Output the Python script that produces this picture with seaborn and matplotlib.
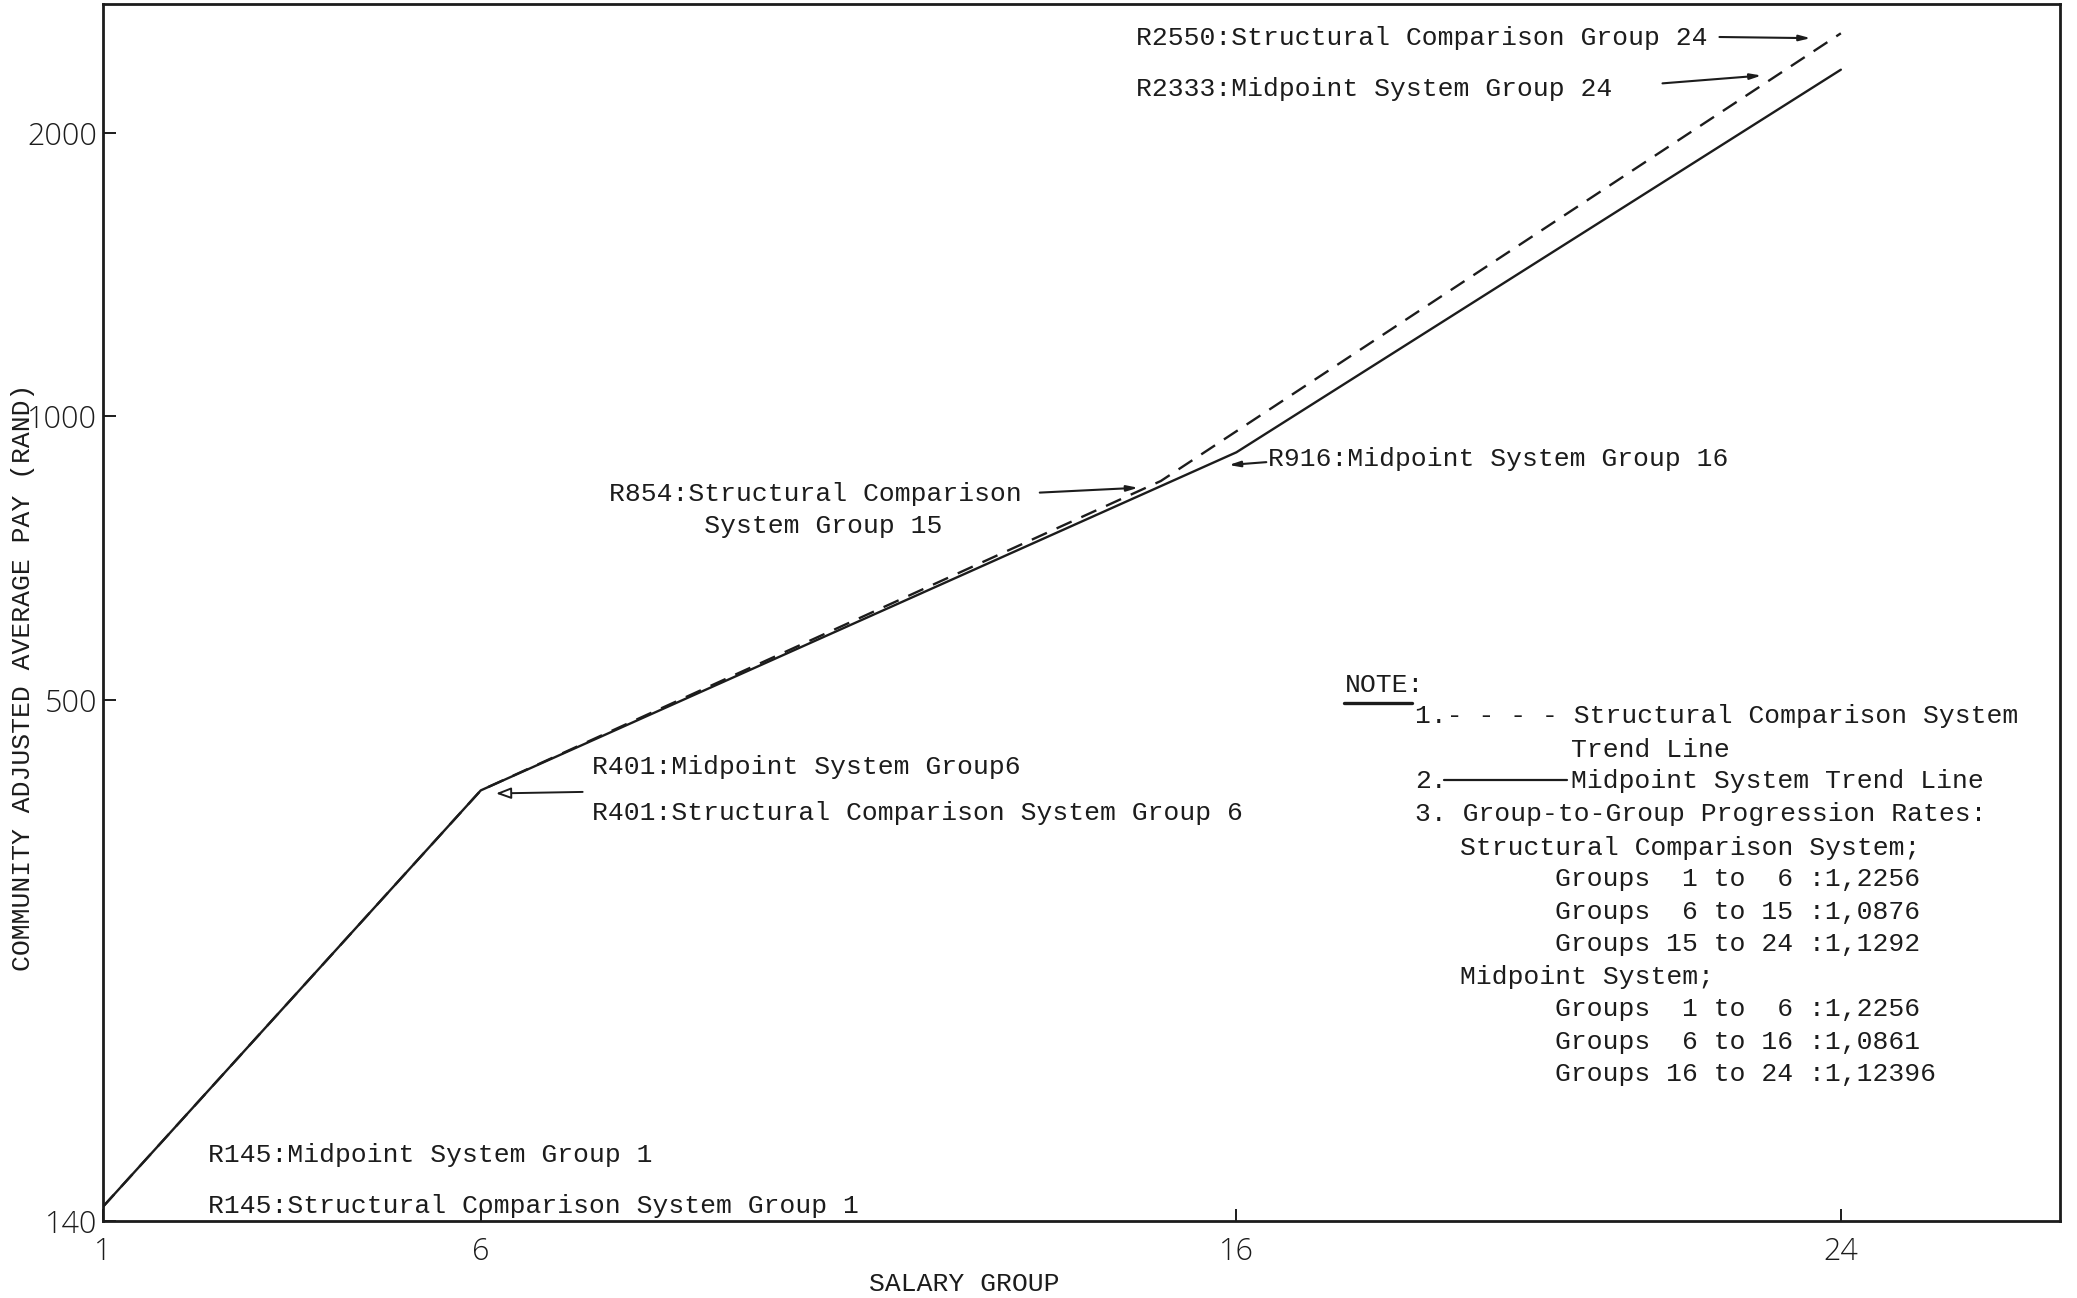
import matplotlib
matplotlib.use("Agg")
import matplotlib.pyplot as plt
import pandas as pd
import seaborn as sns
from matplotlib.font_manager import FontProperties
from matplotlib.ticker import FixedLocator, FixedFormatter, NullLocator

# Trend-line anchor points (salary group -> community adjusted average pay, Rand)
groups_structural = [1, 6, 15, 24]
pay_structural = [145, 401, 854, 2550]
groups_midpoint = [1, 6, 16, 24]
pay_midpoint = [145, 401, 916, 2333]

x_ticks = [1, 6, 16, 24]
x_tick_labels = ["1", "6", "16", "24"]
y_ticks = [140, 500, 1000, 2000]
y_tick_labels = ["140", "500", "1000", "2000"]

STRUCT = "Structural Comparison System"
MID = "Midpoint System"

MONO = ["Liberation Mono", "DejaVu Sans Mono"]
TICKFONT = ["Open Sans", "DejaVu Sans"]
INK = "#1c1c1c"
FS = 19

sns.set_theme(style="ticks")
plt.rcParams["font.family"] = MONO
plt.rcParams["text.color"] = INK

df = pd.concat([
    pd.DataFrame({"group": groups_structural, "pay": pay_structural, "system": STRUCT}),
    pd.DataFrame({"group": groups_midpoint, "pay": pay_midpoint, "system": MID}),
], ignore_index=True)

fig = plt.figure(figsize=(20.77, 12.98), dpi=100)
fig.patch.set_facecolor("white")
ax = fig.add_axes([0.0496, 0.0593, 0.9422, 0.9377])
ax.set_facecolor("white")

sns.lineplot(
    data=df, x="group", y="pay", hue="system", style="system",
    palette={STRUCT: INK, MID: INK},
    dashes={STRUCT: (7, 4.5), MID: ""},
    linewidth=1.7, estimator=None, sort=False, legend=False, ax=ax,
)

ax.set_yscale("log")
ax.set_xlim(1, 26.9)
ax.set_ylim(140, 2740)

ax.xaxis.set_major_locator(FixedLocator(x_ticks))
ax.xaxis.set_major_formatter(FixedFormatter(x_tick_labels))
ax.yaxis.set_major_locator(FixedLocator(y_ticks))
ax.yaxis.set_major_formatter(FixedFormatter(y_tick_labels))
ax.yaxis.set_minor_locator(NullLocator())
ax.xaxis.set_minor_locator(NullLocator())

ax.tick_params(axis="both", direction="in", length=9, width=1.4, colors=INK, labelsize=22)
ax.tick_params(axis="x", pad=11)
ax.tick_params(axis="y", pad=4)
tick_fp = FontProperties(family=TICKFONT, weight="light", size=22)
for lab in ax.get_xticklabels() + ax.get_yticklabels():
    lab.set_fontproperties(tick_fp)
    lab.set_color(INK)

for sp in ax.spines.values():
    sp.set_visible(True)
    sp.set_linewidth(2.0)
    sp.set_color(INK)

mono_fp = FontProperties(family=MONO, size=FS)
ax.set_xlabel("SALARY GROUP", color=INK, fontproperties=mono_fp)
ax.set_ylabel("COMMUNITY ADJUSTED AVERAGE PAY (RAND)", color=INK, fontproperties=mono_fp)
ax.xaxis.set_label_coords(0.44, -0.042)
ax.yaxis.set_label_coords(-0.035, 0.447)

T = ax.transAxes


def ax_pt(px, py):
    """Axes-fraction position from layout coordinates of the frame."""
    return ((px - 78) / 1477.0, (922 - py) / 919.0)


def label(px, py, s, **kw):
    x, y = ax_pt(px, py)
    ax.text(x, y, s, transform=T, va="center", ha="left", color=INK,
            fontproperties=mono_fp, **kw)


filled = dict(arrowstyle="-|>,head_length=0.55,head_width=0.14", color=INK, lw=1.5,
              shrinkA=0, shrinkB=0)
hollow = dict(arrowstyle="-|>,head_length=0.75,head_width=0.28", fc="white", ec=INK, lw=1.4,
              shrinkA=0, shrinkB=0)


def pointer(tail_px, tip_data, props):
    ax.annotate("", xy=tip_data, xycoords="data", xytext=ax_pt(*tail_px),
                textcoords="axes fraction", arrowprops=props)


# Group 24 end points
label(858, 29, "R2550:Structural Comparison Group 24")
pointer((1298, 28), (23.6, 2520), filled)
label(858, 67, "R2333:Midpoint System Group 24")
pointer((1255, 63), (22.95, 2300), filled)

# Group 15 / 16 breaks
label(460, 385, "R854:Structural Comparison\n      System Group 15", linespacing=1.45)
pointer((785, 372), (14.7, 840), filled)
label(957, 347, "R916:Midpoint System Group 16")
pointer((956, 349), (15.9, 888), filled)

# Group 6 break
label(447, 579, "R401:Midpoint System Group6")
label(447, 614, "R401:Structural Comparison System Group 6")
pointer((440, 598), (6.2, 398), hollow)

# Group 1 start
label(157, 872, "R145:Midpoint System Group 1")
label(157, 911, "R145:Structural Comparison System Group 1")

# Note block
label(1015, 517, "NOTE:")
u0 = ax_pt(1015, 531)
u1 = ax_pt(1066, 531)
ax.plot([u0[0], u1[0]], [u0[1], u1[1]], transform=T, color=INK, lw=2.4, clip_on=False)

label(1068, 541, "1.- - - - Structural Comparison System")
label(1186, 566, "Trend Line")
label(1068, 590, "2.")
s0 = ax_pt(1090, 589)
s1 = ax_pt(1183, 589)
ax.plot([s0[0], s1[0]], [s0[1], s1[1]], transform=T, color=INK, lw=1.6, clip_on=False)
label(1186, 590, "Midpoint System Trend Line")
label(1068, 615, "3. Group-to-Group Progression Rates:")
label(1102, 640, "Structural Comparison System;")
label(1174, 664, "Groups  1 to  6 :1,2256")
label(1174, 689, "Groups  6 to 15 :1,0876")
label(1174, 713, "Groups 15 to 24 :1,1292")
label(1102, 738, "Midpoint System;")
label(1174, 762, "Groups  1 to  6 :1,2256")
label(1174, 787, "Groups  6 to 16 :1,0861")
label(1174, 811, "Groups 16 to 24 :1,12396")

fig.savefig("out.png", dpi=100, facecolor="white")
